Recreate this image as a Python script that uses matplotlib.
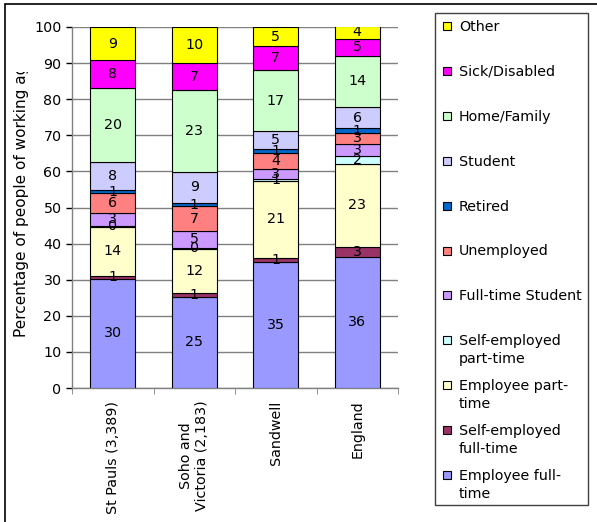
import numpy as np
import matplotlib
matplotlib.use('Agg')
import matplotlib.pyplot as plt
from matplotlib.patches import Rectangle
from matplotlib.transforms import Bbox, TransformedBbox

#-- areas and series (bottom of the stack first)
areas = ['St Pauls (3,389)', 'Soho and\nVictoria (2,183)', 'Sandwell', 'England']
series = ['Employee full-\ntime', 'Self-employed\nfull-time', 'Employee part-\ntime',
          'Self-employed\npart-time', 'Full-time Student', 'Unemployed', 'Retired',
          'Student', 'Home/Family', 'Sick/Disabled', 'Other']
colors = ['#9999FF', '#993366', '#FFFFCC', '#CCFFFF', '#CC99FF', '#FF8080',
          '#0066CC', '#CCCCFF', '#CCFFCC', '#FF00FF', '#FFFF00']

emp_ft = [30.3, 25.3, 34.8, 36.4]
self_ft = [0.8, 0.9, 1.3, 2.7]
emp_pt = [13.6, 12.4, 21.2, 23.0]
self_pt = [0.3, 0.3, 0.6, 2.2]
ft_student = [3.4, 4.6, 2.9, 3.4]
unemployed = [5.6, 6.8, 4.3, 3.0]
retired = [0.8, 1.0, 1.0, 1.2]
student = [7.8, 8.6, 5.0, 5.9]
home_family = [20.4, 22.6, 17.0, 14.3]
sick = [7.8, 7.4, 6.6, 4.6]
other = [9.2, 10.1, 5.3, 3.6]

values = [emp_ft, self_ft, emp_pt, self_pt, ft_student, unemployed,
          retired, student, home_family, sick, other]

W, H = 597, 522
FS = 10.3

#-------------------------------------------------------------------------------

fig = plt.figure(figsize=(W / 100, H / 100), dpi=100)
ax = fig.add_axes([72 / W, 1 - 388 / H, 326 / W, 361 / H])

x = np.arange(len(areas))
bottom = np.zeros(len(areas))
for vals, col in zip(values, colors):
    vals = np.array(vals)
    ax.bar(x, vals, width=0.55, bottom=bottom, color=col, edgecolor='black',
           linewidth=0.8, zorder=3)
    for xi, b, v in zip(x, bottom, vals):
        ax.text(xi, b + v / 2, '%.0f' % v, ha='center', va='center',
                fontsize=FS, zorder=4, clip_on=True)
    bottom += vals

ax.set_xlim(-0.5, len(areas) - 0.5)
ax.set_ylim(0, 100)
ax.set_yticks(np.arange(0, 101, 10))
ax.yaxis.grid(True, color='#808080', linewidth=1, zorder=0)
ax.tick_params(axis='y', length=4, width=1, color='black', pad=3.5, labelsize=FS)

ax.set_xticks(x)
ax.set_xticklabels(areas, rotation=90, va='top', ha='center',
                   multialignment='center', fontsize=FS)
ax.set_xticks(np.arange(-0.5, len(areas)), minor=True)
ax.tick_params(axis='x', which='major', length=0, pad=9)
ax.tick_params(axis='x', which='minor', length=4, color='#808080')

for side in ['top', 'right']:
    ax.spines[side].set_visible(False)
for side in ['left', 'bottom']:
    ax.spines[side].set_color('#808080')
    ax.spines[side].set_linewidth(1)

#-- y label, clipped like the original
ylab = fig.text(22 / W, 1 - 337 / H, 'Percentage of people of working age',
                rotation=90, ha='center', va='bottom', fontsize=11)
ylab.set_clip_box(TransformedBbox(Bbox.from_extents(0, 0, 1, 1 - 72 / H),
                                  fig.transFigure))
ylab.set_clip_on(True)

#-- chart border
fig.add_artist(Rectangle((5 / W, -0.1), 1.2, 1.1 - 4 / H, fill=False,
                         edgecolor='black', linewidth=1.2,
                         transform=fig.transFigure))

#-- legend, drawn by hand (top entry first)
fig.add_artist(Rectangle((435 / W, 1 - 505 / H), 153 / W, 492 / H, fill=False,
                         edgecolor='#404040', linewidth=1,
                         transform=fig.transFigure))
for i, (name, col) in enumerate(zip(series[::-1], colors[::-1])):
    yc = 26 + i * 44.9
    fig.add_artist(Rectangle((443 / W, 1 - (yc + 4) / H), 8 / W, 8 / H,
                             facecolor=col, edgecolor='black', linewidth=0.8,
                             transform=fig.transFigure))
    for j, line in enumerate(name.split('\n')):
        fig.text(459 / W, 1 - (yc + 1 + j * 18) / H, line, ha='left',
                 va='center', fontsize=FS)

fig.savefig('out.png', dpi=100)
